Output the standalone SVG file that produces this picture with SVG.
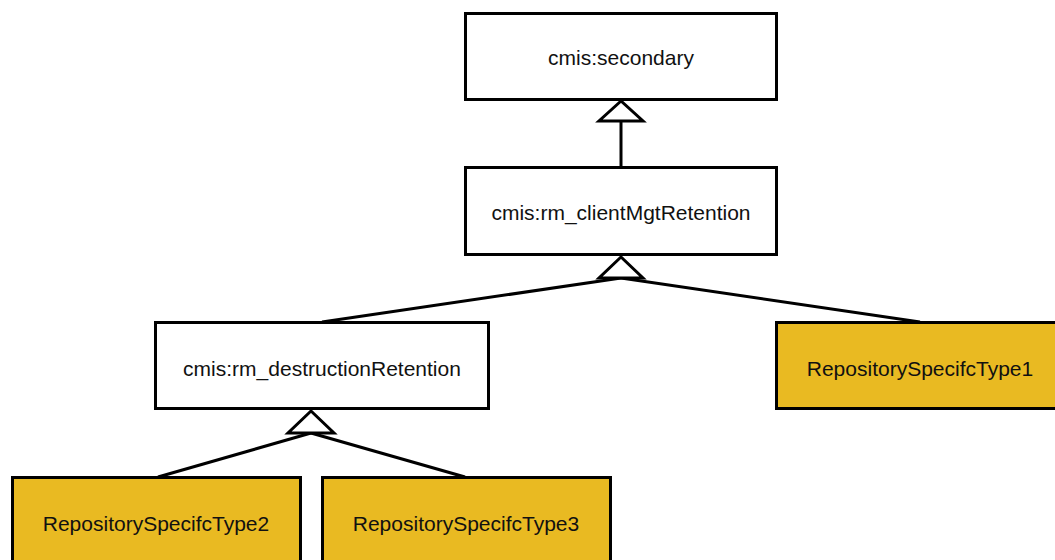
<svg xmlns="http://www.w3.org/2000/svg" width="1055" height="560" viewBox="0 0 1055 560">
<style>
.box{fill:#ffffff;stroke:#000000;stroke-width:3}
.ybox{fill:#E9BA22;stroke:#000000;stroke-width:3}
.lbl{font-family:"Liberation Sans",Arial,sans-serif;font-size:21px;fill:#111111;text-anchor:middle}
.conn{stroke:#000000;stroke-width:3;fill:none}
.tri{fill:#ffffff;stroke:#000000;stroke-width:3;stroke-linejoin:miter}
</style>
<rect width="1055" height="560" fill="#ffffff"/>
<g id="connectors">
<line class="conn" x1="621" y1="121" x2="621" y2="167"/>
<polygon class="tri" points="621,101 599,121 643,121"/>
<line class="conn" x1="621" y1="278" x2="322" y2="322"/>
<line class="conn" x1="621" y1="278" x2="920" y2="322"/>
<polygon class="tri" points="621,257 599,278 643,278"/>
<line class="conn" x1="311" y1="433" x2="158" y2="477"/>
<line class="conn" x1="311" y1="433" x2="465" y2="477"/>
<polygon class="tri" points="311,411 288,433 334,433"/>
</g>
<g id="n-secondary">
<rect class="box" x="465.5" y="13.5" width="311" height="86"/>
<text class="lbl" x="621" y="65">cmis:secondary</text>
</g>
<g id="n-clientMgt">
<rect class="box" x="465.5" y="167.5" width="311" height="87"/>
<text class="lbl" x="621" y="220">cmis:rm_clientMgtRetention</text>
</g>
<g id="n-destruction">
<rect class="box" x="155.5" y="322.5" width="333" height="86"/>
<text class="lbl" x="322" y="376">cmis:rm_destructionRetention</text>
</g>
<g id="n-type1">
<rect class="ybox" x="776.5" y="322.5" width="300" height="86"/>
<text class="lbl" x="920" y="376">RepositorySpecifcType1</text>
</g>
<g id="n-type2">
<rect class="ybox" x="12.5" y="477.5" width="288" height="100"/>
<text class="lbl" x="156" y="531">RepositorySpecifcType2</text>
</g>
<g id="n-type3">
<rect class="ybox" x="322.5" y="477.5" width="288" height="100"/>
<text class="lbl" x="466" y="531">RepositorySpecifcType3</text>
</g>
</svg>
